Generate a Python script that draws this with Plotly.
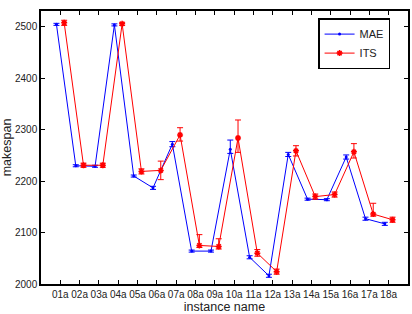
import plotly.graph_objects as go

instances = ["01a","02a","03a","04a","05a","06a","07a","08a","09a","10a","11a","12a","13a","14a","15a","16a","17a","18a"]
mae = [2505, 2230, 2229, 2504, 2210, 2187, 2272, 2064, 2064, 2262, 2052, 2016, 2252, 2165, 2164, 2247, 2127, 2117]
mae_err_plus = [2, 2, 2, 2, 2, 3, 5, 2, 2, 18, 3, 3, 4, 2, 2, 4, 3, 3]
mae_err_minus = [2, 2, 2, 2, 2, 3, 5, 2, 2, 8, 3, 3, 4, 2, 2, 4, 3, 3]
its = [2508, 2231, 2231, 2506, 2219, 2221, 2290, 2075, 2073, 2284, 2060, 2024, 2259, 2170, 2174, 2257, 2136, 2125]
its_err_plus = [5, 4, 4, 3, 5, 18, 14, 21, 15, 35, 7, 5, 10, 5, 5, 16, 21, 5]
its_err_minus = [5, 4, 4, 3, 5, 18, 12, 4, 5, 28, 6, 5, 10, 5, 5, 12, 4, 5]

idx = list(range(1, len(instances) + 1))
off = 0.2

fig = go.Figure()
fig.add_trace(go.Scatter(
    x=[i - off for i in idx], y=mae, name="MAE", mode="lines+markers",
    line=dict(color="#0000ff", width=1),
    marker=dict(symbol="circle", size=3, color="#0000ff"),
    error_y=dict(type="data", array=mae_err_plus, arrayminus=mae_err_minus, symmetric=False,
                 color="#0000ff", thickness=1, width=3),
))
fig.add_trace(go.Scatter(
    x=[i + off for i in idx], y=its, name="ITS", mode="lines+markers",
    line=dict(color="#ff0000", width=1),
    marker=dict(symbol="asterisk-open", size=5, color="#ff0000", line=dict(color="#ff0000", width=1.5)),
    error_y=dict(type="data", array=its_err_plus, arrayminus=its_err_minus, symmetric=False,
                 color="#ff0000", thickness=1, width=3),
))

axis_common = dict(
    showline=True, linecolor="black", linewidth=1.5, mirror="ticks",
    ticks="inside", ticklen=4, tickcolor="black", tickwidth=1,
    showgrid=False, zeroline=False,
    tickfont=dict(family="Liberation Sans, Arial", size=10, color="#222"),
)

fig.update_layout(
    width=412, height=314,
    margin=dict(l=40, r=2, t=11, b=30),
    paper_bgcolor="white", plot_bgcolor="white",
    font=dict(family="Liberation Sans, Arial", color="#222"),
    showlegend=True,
    legend=dict(x=0.755, y=0.974, xanchor="left", yanchor="top",
                bordercolor="black", borderwidth=1.5, bgcolor="white",
                font=dict(size=11, color="#222"), tracegroupgap=0, itemwidth=30),
    xaxis=dict(range=[0, 19], tickvals=idx, ticktext=instances,
               title=dict(text="instance name", font=dict(size=12.5), standoff=2), **axis_common),
    yaxis=dict(range=[2000, 2531], tickvals=[2000, 2100, 2200, 2300, 2400, 2500],
               title=dict(text="makespan", font=dict(size=12.5), standoff=4), **axis_common),
)

fig.write_html("out.html")
